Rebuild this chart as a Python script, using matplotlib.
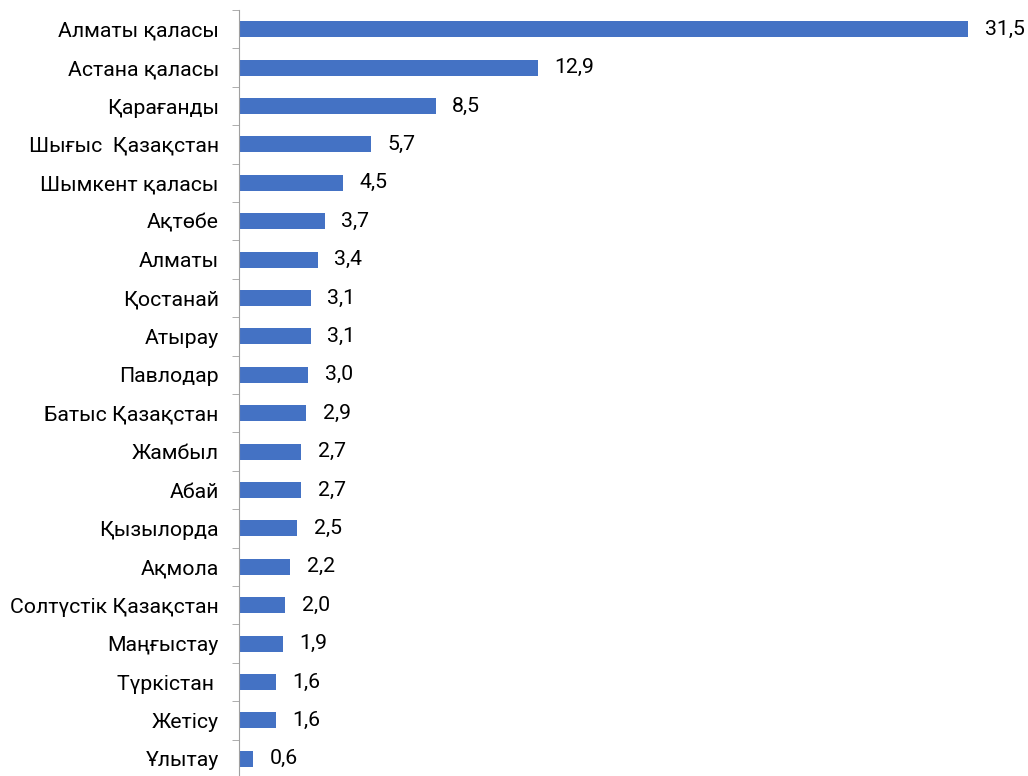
import matplotlib
matplotlib.use('Agg')
import matplotlib.pyplot as plt

# regions and their share, %
regions = ['Алматы қаласы', 'Астана қаласы', 'Қарағанды', 'Шығыс  Қазақстан',
           'Шымкент қаласы', 'Ақтөбе', 'Алматы', 'Қостанай', 'Атырау', 'Павлодар',
           'Батыс Қазақстан', 'Жамбыл', 'Абай', 'Қызылорда', 'Ақмола',
           'Солтүстік Қазақстан', 'Маңғыстау', 'Түркістан ', 'Жетісу', 'Ұлытау']
values = [31.5, 12.9, 8.5, 5.7, 4.5, 3.7, 3.4, 3.1, 3.1, 3.0,
          2.9, 2.7, 2.7, 2.5, 2.2, 2.0, 1.9, 1.6, 1.6, 0.6]

plt.rcParams['font.family'] = ['Roboto', 'DejaVu Sans']

fig = plt.figure(figsize=(10.28, 7.76), dpi=100)
ax = fig.add_axes([239 / 1028, -2 / 776, 1 - 239 / 1028, 768 / 776])

pos = list(range(len(regions)))
ax.barh(pos, values, height=0.42, color='#4472c4')
for p, v in zip(pos, values):
    ax.text(v + 0.72, p, f'{v:.1f}'.replace('.', ','), va='center', ha='left',
            fontsize=15.3, color='#000000')

ax.set_ylim(len(regions) - 0.5, -0.5)
ax.set_xlim(0, 789 / 23.14)
ax.set_yticks(pos)
ax.set_yticklabels(regions, fontsize=15.3)
ax.set_yticks([p - 0.5 for p in range(len(regions) + 1)], minor=True)
ax.tick_params(axis='y', which='major', length=0, pad=14.5)
ax.tick_params(axis='y', which='minor', length=5, color='#a0a0a0')
ax.set_xticks([])
for s in ['top', 'right', 'bottom']:
    ax.spines[s].set_visible(False)
ax.spines['left'].set_color('#a0a0a0')

fig.savefig('out.png', dpi=100)
